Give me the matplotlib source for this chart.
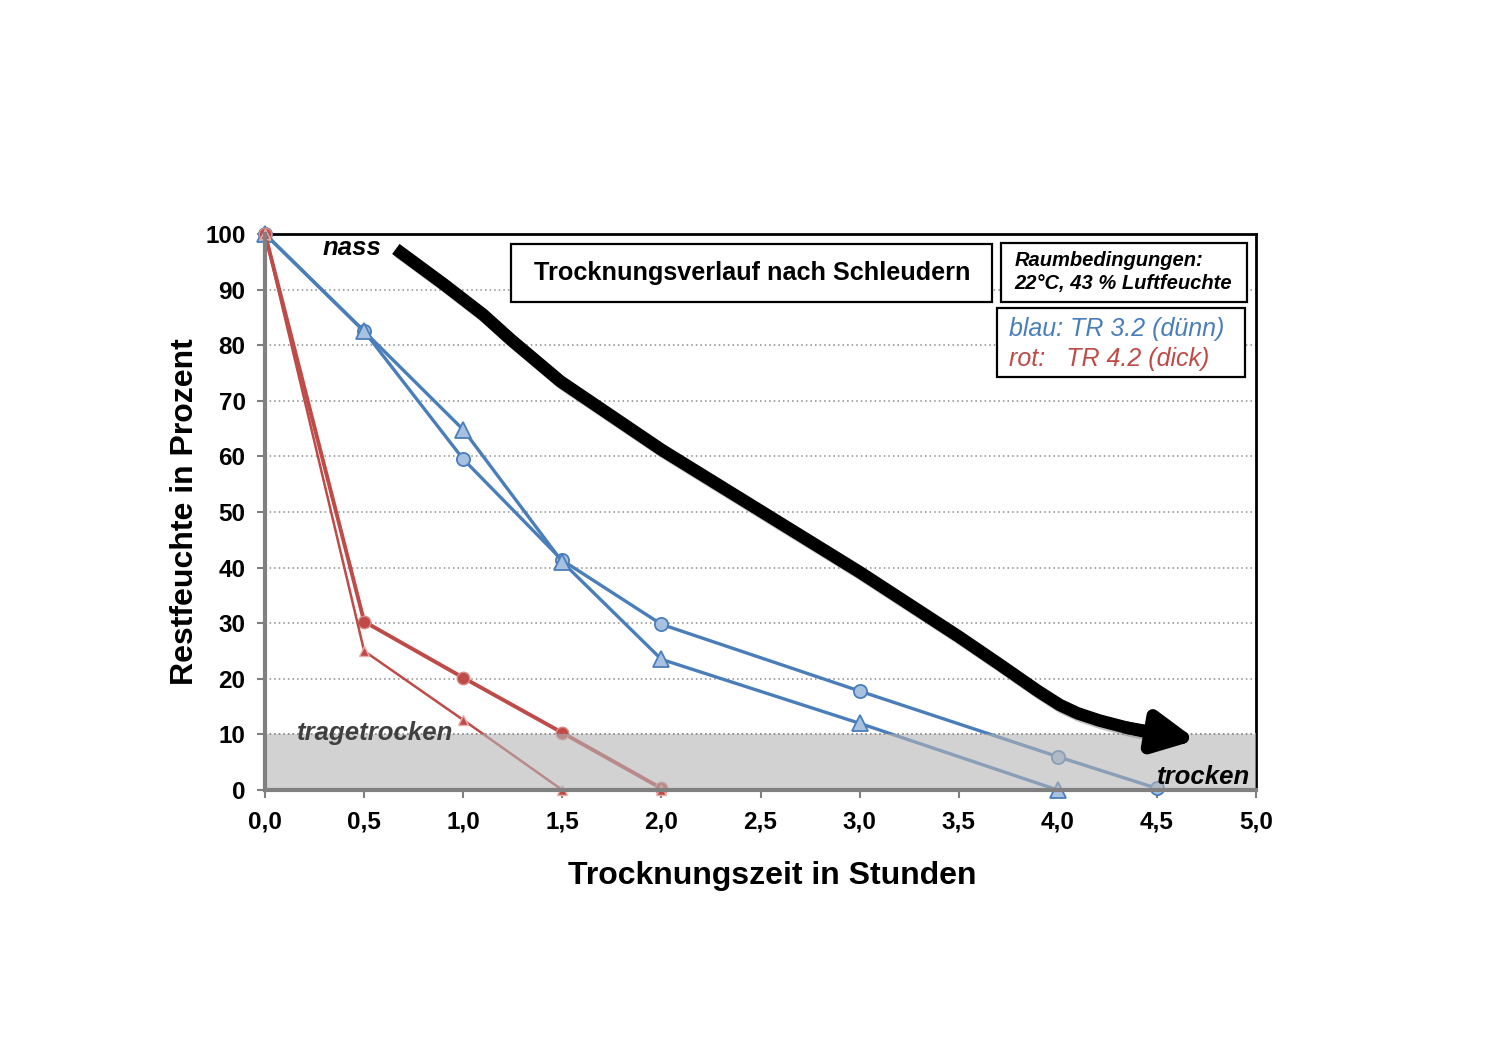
import matplotlib
matplotlib.use("Agg")
import matplotlib.pyplot as plt
import matplotlib.patheffects as pe
from matplotlib.patches import Rectangle

plt.rcParams['font.family'] = ['Liberation Sans', 'DejaVu Sans']

# data
blue_circ_x = [0, 0.5, 1.0, 1.5, 2.0, 3.0, 4.0, 4.5]
blue_circ_y = [100, 82.5, 59.5, 41.3, 29.8, 17.8, 6.0, 0.3]
blue_tri_x = [0, 0.5, 1.0, 1.5, 2.0, 3.0, 4.0]
blue_tri_y = [100, 82.5, 64.8, 41.0, 23.5, 12.0, 0]
red_circ_x = [0, 0.5, 1.0, 1.5, 2.0]
red_circ_y = [100, 30.3, 20.2, 10.3, 0.3]
red_tri_x = [0, 0.5, 1.0, 1.5, 2.0]
red_tri_y = [100, 25.0, 12.6, 0, 0]

# the black "nass -> trocken" arrow
arrow_x = [0.66, 0.9, 1.1, 1.24, 1.49, 2.0, 2.5, 3.0, 3.5, 3.71, 3.9, 4.01, 4.1, 4.21, 4.35, 4.48]
arrow_y = [97.3, 91.0, 85.5, 81.0, 73.5, 61.2, 50.2, 39.2, 27.6, 22.5, 17.8, 15.3, 13.8, 12.5, 11.2, 10.2]
arrow_tip = (4.70, 9.0)

xticks = [0, 0.5, 1, 1.5, 2, 2.5, 3, 3.5, 4, 4.5, 5]
xticklabels = ['0,0', '0,5', '1,0', '1,5', '2,0', '2,5', '3,0', '3,5', '4,0', '4,5', '5,0']
yticks = list(range(0, 101, 10))

blue = '#4a7ebb'
red = '#be4b48'

fig = plt.figure(figsize=(15, 10.61), dpi=100)
ax = fig.add_axes([0.1767, 0.2554, 0.6606, 0.5241])
ax.set_xlim(0, 5)
ax.set_ylim(0, 100)

for y in yticks[1:-1]:
    ax.axhline(y, color='#8c8c8c', lw=1.1, ls=(0, (1, 2)), zorder=1)

ax.plot(blue_circ_x, blue_circ_y, color=blue, lw=2.4, marker='o', ms=9.5,
        mfc='#a9c1e0', mec=blue, mew=1.3, zorder=3, clip_on=False)
ax.plot(blue_tri_x, blue_tri_y, color=blue, lw=2.4, marker='^', ms=11,
        mfc='#a9c1e0', mec=blue, mew=1.3, zorder=3, clip_on=False)
ax.plot(red_circ_x, red_circ_y, color=red, lw=2.8, marker='o', ms=9,
        mfc=red, mec='#d98b88', mew=1.0, zorder=3, clip_on=False)
ax.plot(red_tri_x, red_tri_y, color=red, lw=1.8, marker='^', ms=7,
        mfc=red, mec='#e9b0ae', mew=1.0, zorder=3, clip_on=False)

# grey "tragetrocken" band, semi-transparent over the lines
ax.add_patch(Rectangle((0, 0), 5, 10, facecolor='#b5b5b5', alpha=0.6,
                       edgecolor='none', zorder=4))
ax.axhline(10, color='#8c8c8c', lw=1.1, ls=(0, (1, 2)), zorder=4)

shadow = [pe.SimpleLineShadow(offset=(2, -2), shadow_color='#888888', alpha=0.5), pe.Normal()]
ax.plot(arrow_x, arrow_y, color='black', lw=9, solid_capstyle='butt',
        solid_joinstyle='round', zorder=5, path_effects=shadow)
ax.annotate('', xy=arrow_tip, xytext=(arrow_x[-2], arrow_y[-2]),
            arrowprops=dict(arrowstyle='-|>,head_length=2.4,head_width=1.2',
                            color='black', lw=9, shrinkA=0, shrinkB=0),
            zorder=5)

for s in ['top', 'right']:
    ax.spines[s].set_color('black')
    ax.spines[s].set_linewidth(2)
for s in ['left', 'bottom']:
    ax.spines[s].set_color('#808080')
    ax.spines[s].set_linewidth(3)
    ax.spines[s].set_zorder(6)

ax.set_xticks(xticks)
ax.set_xticklabels(xticklabels)
ax.set_yticks(yticks)
ax.tick_params(axis='both', direction='out', length=6, width=1.5, color='#808080',
               labelsize=17.5)
ax.tick_params(axis='x', pad=9)
ax.tick_params(axis='y', pad=8)
for lab in ax.get_xticklabels() + ax.get_yticklabels():
    lab.set_fontweight('bold')

ax.set_xlabel('Trocknungszeit in Stunden', fontsize=23, fontweight='bold', labelpad=21)
ax.set_ylabel('Restfeuchte in Prozent', fontsize=23, fontweight='bold', labelpad=4)
ax.xaxis.set_label_coords(0.512, -0.128)

ax.text(0.29, 97.5, 'nass', fontsize=18.5, fontweight='bold', style='italic',
        ha='left', va='center', zorder=7)
ax.text(0.16, 10.2, 'tragetrocken', fontsize=18.5, fontweight='bold', style='italic',
        color='#404040', ha='left', va='center', zorder=7)
ax.text(4.97, 2.4, 'trocken', fontsize=18.5, fontweight='bold', style='italic',
        color='black', ha='right', va='center', zorder=7)

ax.add_patch(Rectangle((1.243, 87.8), 2.427, 10.4, facecolor='white',
                       edgecolor='black', lw=1.6, zorder=7))
ax.text(2.456, 93.0, 'Trocknungsverlauf nach Schleudern', fontsize=18.2,
        fontweight='bold', ha='center', va='center', zorder=8)

ax.add_patch(Rectangle((3.715, 87.8), 1.241, 10.6, facecolor='white',
                       edgecolor='black', lw=1.6, zorder=7))
ax.text(3.78, 95.3, 'Raumbedingungen:', fontsize=14.5, fontweight='bold',
        style='italic', ha='left', va='center', zorder=8)
ax.text(3.78, 91.1, '22°C, 43 % Luftfeuchte', fontsize=14.5, fontweight='bold',
        style='italic', ha='left', va='center', zorder=8)

ax.add_patch(Rectangle((3.694, 74.2), 1.252, 12.5, facecolor='white',
                       edgecolor='black', lw=1.6, zorder=7))
ax.text(3.755, 82.9, 'blau: TR 3.2 (dünn)', fontsize=18, style='italic',
        color=blue, ha='left', va='center', zorder=8)
ax.text(3.755, 77.6, 'rot:   TR 4.2 (dick)', fontsize=18, style='italic',
        color=red, ha='left', va='center', zorder=8)

fig.savefig('out.png', dpi=100)
